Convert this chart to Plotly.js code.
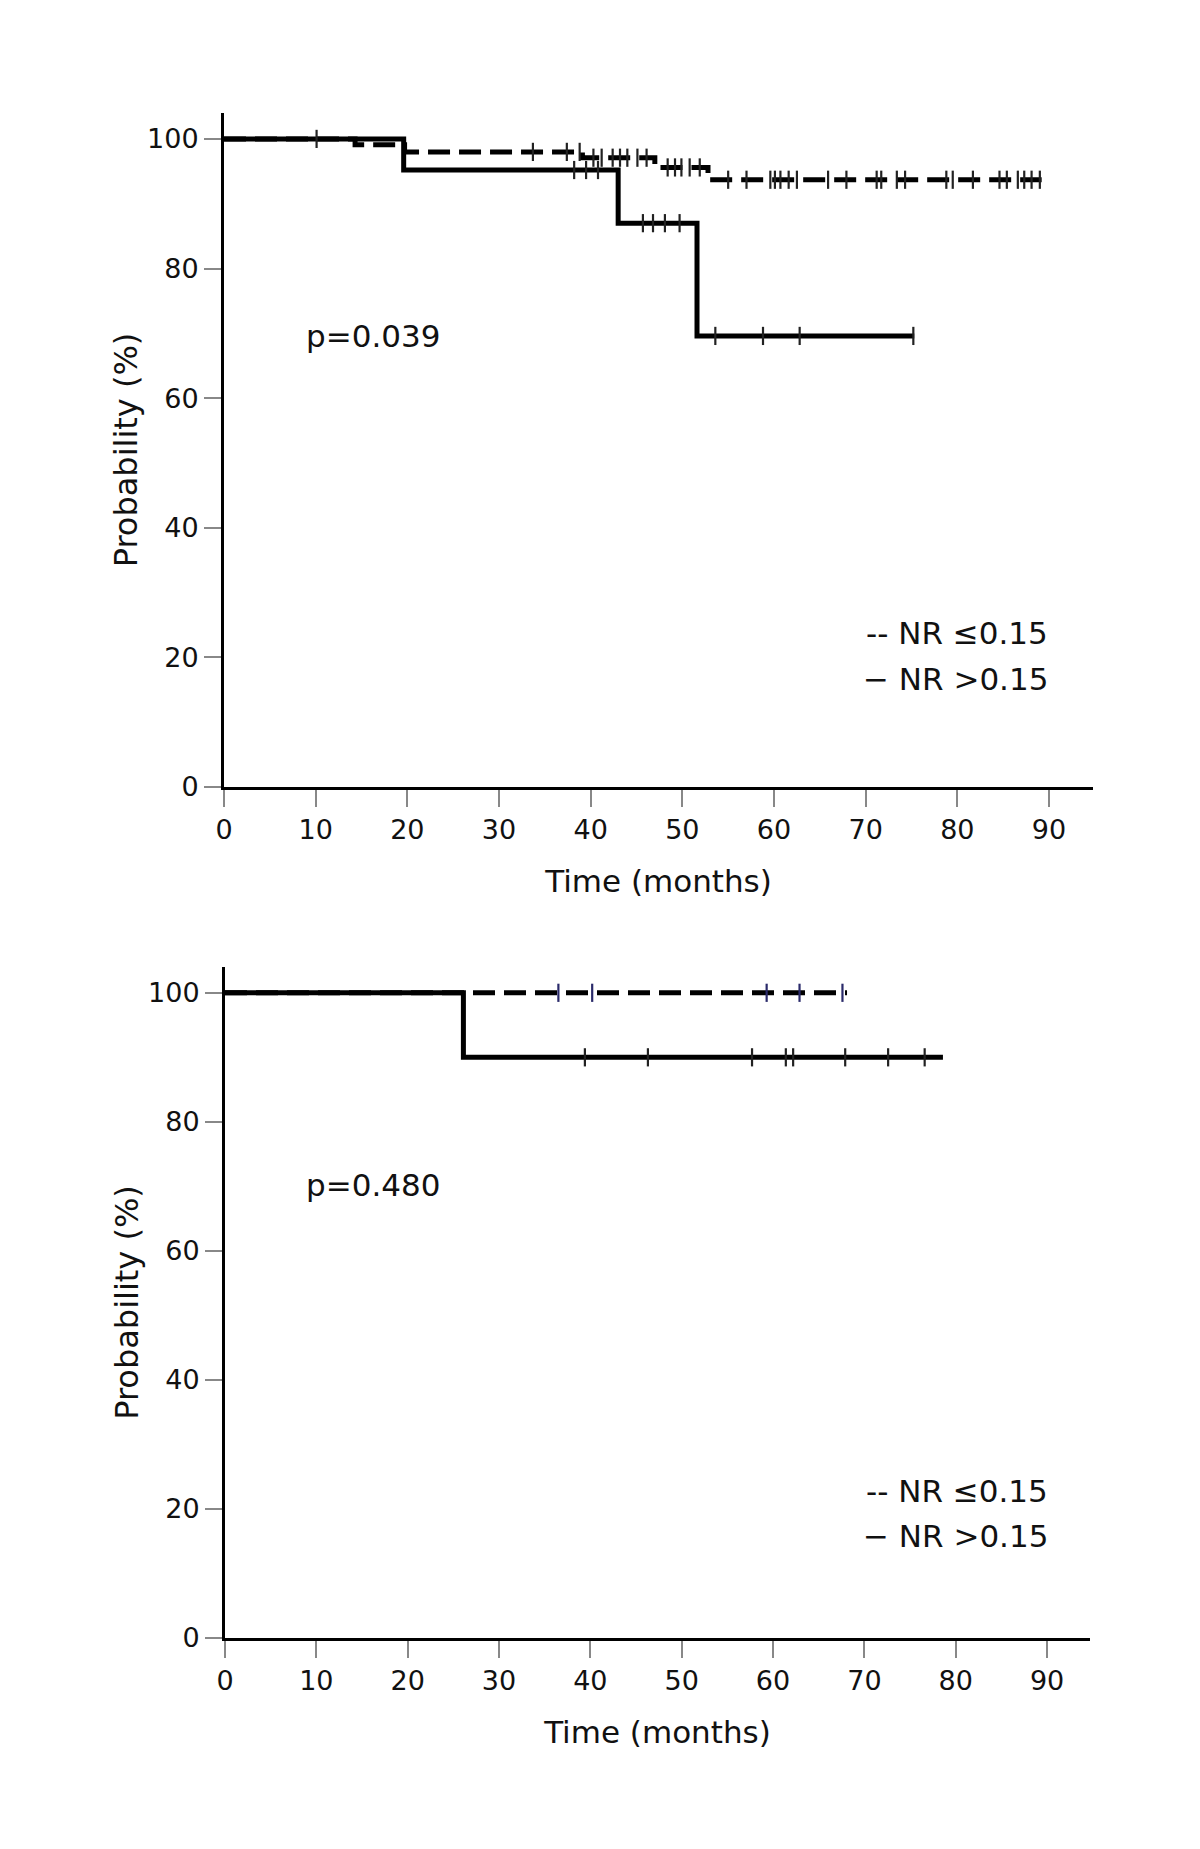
<!DOCTYPE html>
<html>
<head>
<meta charset="utf-8">
<script src="https://cdn.plot.ly/plotly-3.0.1.min.js"></script>
<style>
html,body{margin:0;padding:0;background:#fff;}
#chart{width:1200px;height:1849px;}
</style>
</head>
<body>
<div id="chart"></div>
<script>
// ---------- Data ----------
// Top panel (p=0.039)
const topDashTimes = [0, 14.3, 19.7, 39.1, 47.0, 52.8, 89.2];
const topDashSurv  = [100, 99.1, 98.0, 97.1, 95.6, 93.7, 93.7];
const topDashCens  = [33.7, 37.4, 38.8, 40.3, 41.2, 42.4, 43.2, 44.0, 45.1, 46.1,
                      48.4, 49.2, 49.9, 50.8, 51.9,
                      55.0, 57.0, 59.6, 60.1, 60.7, 61.6, 62.5, 65.9, 67.9, 71.2, 71.7,
                      73.4, 74.3, 78.8, 79.5, 81.7, 84.6, 85.4, 86.6, 87.3, 88.1, 89.0];
const topSolidTimes = [0, 19.6, 43.0, 51.6, 75.3];
const topSolidSurv  = [100, 95.2, 87.0, 69.6, 69.6];
const topSolidCens  = [10.1, 38.2, 39.5, 40.8, 45.7, 46.8, 48.1, 49.7, 53.6, 58.8, 62.8, 75.2];

// Bottom panel (p=0.480)
const botDashTimes = [0, 68.1];
const botDashSurv  = [100, 100];
const botDashCens  = [36.5, 40.2, 59.3, 62.9, 67.6];
const botSolidTimes = [0, 26.1, 78.6];
const botSolidSurv  = [100, 90.0, 90.0];
const botSolidCens  = [39.4, 46.3, 57.7, 61.4, 62.2, 67.9, 72.6, 76.6];

const xTicks = [0, 10, 20, 30, 40, 50, 60, 70, 80, 90];
const yTicks = [0, 20, 40, 60, 80, 100];
const pTexts = ["p=0.039", "p=0.480"];
const legendLabels = ["-- NR \u22640.15", "\u2212 NR >0.15"];
const xTitle = "Time (months)";
const yTitle = "Probability (%)";

// ---------- Helpers ----------
function survAt(times, surv, t) {
  let s = surv[0];
  for (let i = 0; i < times.length; i++) { if (times[i] <= t) s = surv[i]; }
  return s;
}
const FONT = "DejaVu Sans, Verdana, sans-serif";

function curve(times, surv, xa, ya, dashed) {
  return {
    x: times, y: surv, xaxis: xa, yaxis: ya, type: 'scatter', mode: 'lines',
    line: {shape: 'hv', color: '#000', width: 5, dash: dashed ? '22px,9px' : 'solid'},
    hoverinfo: 'skip', showlegend: false
  };
}
function cens(times, surv, c, xa, ya, color) {
  return {
    x: c, y: c.map(t => survAt(times, surv, t)), xaxis: xa, yaxis: ya,
    type: 'scatter', mode: 'markers',
    marker: {symbol: 'line-ns', size: 13, color: color, line: {color: color, width: 2.2}},
    hoverinfo: 'skip', showlegend: false, cliponaxis: false
  };
}

const traces = [
  curve(topSolidTimes, topSolidSurv, 'x', 'y', false),
  curve(topDashTimes, topDashSurv, 'x', 'y', true),
  cens(topSolidTimes, topSolidSurv, topSolidCens, 'x', 'y', '#222'),
  cens(topDashTimes, topDashSurv, topDashCens, 'x', 'y', '#222'),
  curve(botSolidTimes, botSolidSurv, 'x2', 'y2', false),
  curve(botDashTimes, botDashSurv, 'x2', 'y2', true),
  cens(botSolidTimes, botSolidSurv, botSolidCens, 'x2', 'y2', '#222'),
  cens(botDashTimes, botDashSurv, botDashCens, 'x2', 'y2', '#2a2a6a')
];

function xAxis(domain, range, anchor) {
  return {
    domain: domain, range: range, anchor: anchor,
    showline: true, linecolor: '#000', linewidth: 3,
    ticks: 'outside', ticklen: 17, tickwidth: 2, tickcolor: '#888',
    tickvals: xTicks, ticktext: xTicks.map(String),
    tickfont: {family: FONT, size: 27, color: '#111'},
    showgrid: false, zeroline: false, fixedrange: true,
    title: {text: xTitle, font: {family: FONT, size: 31, color: '#111'}, standoff: 26}
  };
}
function yAxis(domain, anchor) {
  return {
    domain: domain, range: [0, 104], anchor: anchor,
    showline: true, linecolor: '#000', linewidth: 3,
    ticks: 'outside', ticklen: 17, tickwidth: 2, tickcolor: '#888',
    tickvals: yTicks, ticktext: yTicks.map(String),
    tickfont: {family: FONT, size: 27, color: '#111'},
    showgrid: false, zeroline: false, fixedrange: true,
    title: {text: yTitle, font: {family: FONT, size: 32, color: '#111'}, standoff: 0}
  };
}

function ann(text, x, y, xr, yr, anchor) {
  return {text: text, x: x, y: y, xref: xr, yref: yr, showarrow: false,
          xanchor: anchor, yanchor: 'middle',
          font: {family: FONT, size: 31, color: '#111'}};
}

const layout = {
  width: 1200, height: 1849,
  margin: {l: 0, r: 0, t: 0, b: 0},
  paper_bgcolor: '#fff', plot_bgcolor: '#fff',
  showlegend: false,
  xaxis: xAxis([0.18667, 0.91083], [0, 94.8], 'y'),
  yaxis: yAxis([0.57436, 0.93889], 'x'),
  xaxis2: xAxis([0.1875, 0.90833], [0, 94.7], 'y2'),
  yaxis2: yAxis([0.11412, 0.47702], 'x2'),
  annotations: [
    ann(pTexts[0], 8.7, 69.6, 'x', 'y', 'left'),
    ann(legendLabels[0], 90.1, 23.7, 'x', 'y', 'right'),
    ann(legendLabels[1], 90.1, 16.7, 'x', 'y', 'right'),
    ann(pTexts[1], 8.65, 70.2, 'x2', 'y2', 'left'),
    ann(legendLabels[0], 90.3, 22.8, 'x2', 'y2', 'right'),
    ann(legendLabels[1], 90.3, 15.8, 'x2', 'y2', 'right')
  ]
};

Plotly.newPlot('chart', traces, layout, {staticPlot: true, displayModeBar: false});
</script>
</body>
</html>
